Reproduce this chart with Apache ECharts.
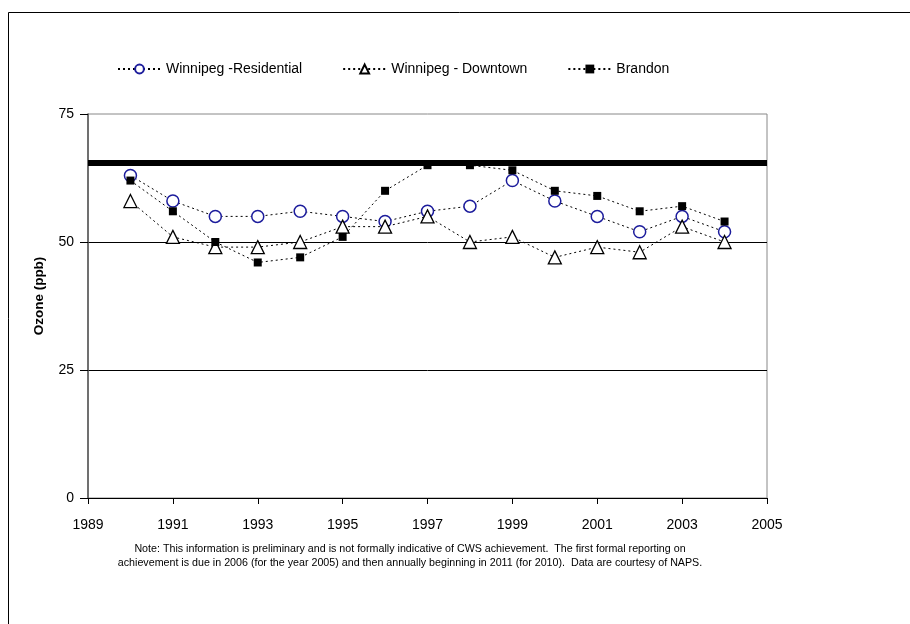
<!DOCTYPE html>
<html>
<head>
<meta charset="utf-8">
<script src="https://cdn.jsdelivr.net/npm/echarts@6/dist/echarts.min.js"></script>
<style>
html,body{margin:0;padding:0;background:#fff;}
#chart{width:910px;height:624px;}
</style>
</head>
<body>
<div id="chart"></div>
<script>
const years = [1990, 1991, 1992, 1993, 1994, 1995, 1996, 1997, 1998, 1999, 2000, 2001, 2002, 2003, 2004];
const residential = [63, 58, 55, 55, 56, 55, 54, 56, 57, 62, 58, 55, 52, 55, 52];
const downtown = [58, 51, 49, 49, 50, 53, 53, 55, 50, 51, 47, 49, 48, 53, 50];
const brandon = [62, 56, 50, 46, 47, 51, 60, 65, 65, 64, 60, 59, 56, 57, 54];
const cwsLevel = 65.4;
const xTicks = [1989, 1991, 1993, 1995, 1997, 1999, 2001, 2003, 2005];
const yTicks = [0, 25, 50, 75];
const seriesNames = ['Winnipeg -Residential', 'Winnipeg - Downtown', 'Brandon'];
const yTitle = 'Ozone (ppb)';
const noteText = 'Note: This information is preliminary and is not formally indicative of CWS achievement.  The first formal reporting on\nachievement is due in 2006 (for the year 2005) and then annually beginning in 2011 (for 2010).  Data are courtesy of NAPS.';

const FONT = "'Liberation Sans', Arial, sans-serif";
const pair = arr => years.map((y, i) => [y, arr[i]]);
const dotted = { color: '#000', width: 1, type: [2, 3] };

const chart = echarts.init(document.getElementById('chart'), null, { renderer: 'canvas' });
chart.setOption({
  backgroundColor: '#fff',
  animation: false,
  textStyle: { fontFamily: FONT, color: '#000' },
  grid: { left: 88, right: 143, top: 114, bottom: 126, show: true, borderColor: '#888', borderWidth: 1, backgroundColor: 'transparent' },
  legend: {
    top: 57, left: 112,
    itemWidth: 43, itemHeight: 11, itemGap: 40,
    textStyle: { fontSize: 14, color: '#000', fontFamily: FONT },
    data: seriesNames
  },
  graphic: [
    {
      type: 'rect', shape: { x: 8.5, y: 12.5, width: 2000, height: 2000 },
      style: { fill: 'none', stroke: '#000', lineWidth: 1 }, silent: true, z: 100
    },
    {
      type: 'text', x: 410, y: 542, silent: true,
      style: { text: noteText, fontSize: 10.7, fontFamily: FONT, fill: '#000', align: 'center', verticalAlign: 'top', lineHeight: 14 }
    },
    {
      type: 'text', x: 39, y: 296, rotation: Math.PI / 2, silent: true,
      style: { text: yTitle, fontSize: 13.5, fontWeight: 'bold', fontFamily: FONT, fill: '#000', align: 'center', verticalAlign: 'middle' }
    }
  ],
  xAxis: {
    type: 'value', min: 1989, max: 2005,
    axisLine: { show: true, onZero: false, lineStyle: { color: '#000', width: 1 } },
    axisTick: { show: true, length: 6, lineStyle: { color: '#000' }, customValues: xTicks },
    axisLabel: { customValues: xTicks, fontSize: 14, color: '#000', margin: 20, fontFamily: FONT, formatter: v => String(v) },
    splitLine: { show: false }
  },
  yAxis: {
    type: 'value', min: 0, max: 75, interval: 25,
    axisLine: { show: true, lineStyle: { color: '#555', width: 1.5 } },
    axisTick: { show: true, length: 8, lineStyle: { color: '#000' } },
    axisLabel: { fontSize: 14, color: '#000', margin: 14, fontFamily: FONT },
    splitLine: { show: true, showMinLine: false, showMaxLine: false, lineStyle: { color: '#000', width: 1 } }
  },
  series: [
    {
      name: seriesNames[0], type: 'line', data: pair(residential),
      symbol: 'circle', symbolSize: 12,
      itemStyle: { color: '#fff', borderColor: '#1c1c9c', borderWidth: 1.5 },
      lineStyle: dotted, z: 3
    },
    {
      name: seriesNames[1], type: 'line', data: pair(downtown),
      symbol: 'triangle', symbolSize: 13,
      itemStyle: { color: '#fff', borderColor: '#000', borderWidth: 1.3 },
      lineStyle: dotted, z: 4
    },
    {
      name: seriesNames[2], type: 'line', data: pair(brandon),
      symbol: 'rect', symbolSize: 8,
      itemStyle: { color: '#000', borderColor: '#000', borderWidth: 0 },
      lineStyle: dotted, z: 5,
      markLine: {
        silent: true, symbol: 'none', animation: false,
        label: { show: false },
        lineStyle: { color: '#000', width: 6, type: 'solid' },
        data: [{ yAxis: cwsLevel }]
      }
    }
  ]
});
</script>
</body>
</html>
